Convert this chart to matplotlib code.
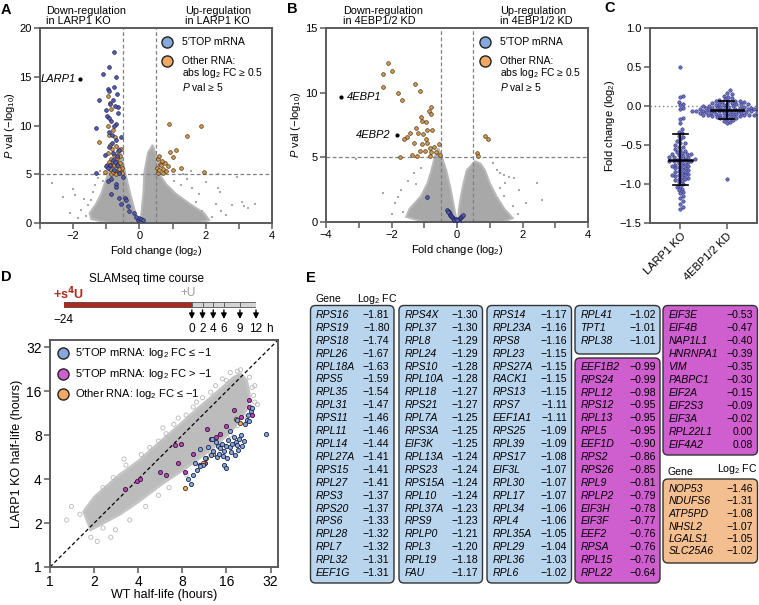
import numpy as np
import matplotlib
matplotlib.use("Agg")
import matplotlib.pyplot as plt
from matplotlib.patches import FancyBboxPatch, Polygon

plt.rcParams["font.family"] = ["Liberation Sans", "DejaVu Sans"]
plt.rcParams["mathtext.fontset"] = "custom"
plt.rcParams["mathtext.rm"] = "Liberation Sans"
plt.rcParams["mathtext.it"] = "Liberation Sans:italic"
plt.rcParams["font.size"] = 8

# ---------------- data ----------------
# Panel A: LARP1 KO volcano (fold change log2, -log10 P)
a_core_left = [(-0.03, 0.0), (-0.9, 0.0), (-1.45, 0.4), (-1.5, 1.0), (-1.3, 2.0), (-1.15, 3.0),
               (-1.05, 4.0), (-0.95, 5.0), (-0.85, 6.0), (-0.72, 7.0), (-0.62, 7.8), (-0.55, 7.0),
               (-0.42, 5.0), (-0.28, 3.0), (-0.12, 1.0), (-0.04, 0.3)]
a_core_right = [(0.03, 0.0), (0.06, 1.0), (0.12, 3.0), (0.15, 5.2), (0.26, 7.2), (0.40, 8.0),
                (0.50, 7.0), (0.60, 5.0), (0.80, 4.0), (1.10, 3.0), (1.50, 2.0), (1.95, 1.0),
                (2.1, 0.3), (1.8, 0.0)]
a_sparse = [(-2.65, 4.1), (-2.3, 2.7), (-2.0, 3.5), (-1.95, 2.9), (-1.67, 2.5), (-1.55, 1.8),
            (-1.4, 3.2), (-1.3, 1.2), (-1.25, 4.6), (-1.1, 4.3), (-1.6, 0.7), (1.6, 3.6),
            (1.8, 3.0), (2.37, 3.6), (2.43, 3.2), (2.3, 1.9), (2.8, 1.85), (3.1, 2.2),
            (3.15, 1.7), (3.28, 1.5), (3.48, 1.95), (2.37, 5.0), (2.93, 4.75), (2.0, 4.2),
            (1.7, 2.2), (1.45, 4.5), (1.9, 1.2), (2.6, 0.8), (1.3, 5.0), (1.55, 5.3),
            (-1.75, 1.3), (-1.85, 0.5), (-2.1, 1.0), (-1.45, 2.4), (2.2, 0.6), (2.45, 1.2),
            (1.25, 3.9), (1.05, 4.3), (-1.2, 5.3), (-1.35, 3.9)]
a_top = [(-0.78, 17.5), (-1.11, 15.3), (-0.91, 16.0), (-0.71, 15.0), (-0.96, 13.7), (-0.93, 13.5),
         (-1.21, 12.6), (-0.81, 12.6), (-0.66, 11.9), (-1.01, 11.6), (-0.88, 12.2), (-0.75, 12.0),
         (-0.98, 11.0), (-0.85, 10.5), (-0.70, 10.2), (-1.31, 9.7), (-0.76, 9.9), (-0.92, 9.3),
         (-0.71, 8.5), (-0.84, 8.2), (-0.91, 7.8), (-0.61, 7.5), (-0.80, 7.2), (-0.69, 6.9),
         (-0.81, 6.5), (-1.01, 5.8), (-0.88, 6.0), (-0.76, 5.4), (-0.61, 5.1), (-1.31, 5.1),
         (-0.95, 5.6), (-0.68, 5.9), (-0.86, 4.5), (-0.72, 4.0), (-0.51, 4.75), (-0.71, 3.7),
         (-0.86, 3.0), (-0.62, 2.6), (-0.95, 4.3), (-0.55, 2.0), (-0.45, 2.6), (-0.40, 2.4),
         (-0.35, 1.7), (-0.30, 1.2), (-0.15, 1.0), (-0.05, 0.3), (0.00, 0.5), (0.05, 0.4),
         (0.10, 0.3), (-0.10, 0.6), (-1.05, 7.0), (-0.78, 14.0), (-0.67, 13.2), (-0.57, 8.8),
         (-0.82, 9.0), (-0.93, 10.8), (-0.73, 6.3), (-0.65, 11.3)]
a_other = [(-1.21, 8.3), (-0.96, 13.0), (-0.90, 12.3), (-0.85, 11.7), (-0.95, 10.0), (-0.80, 9.5),
           (-0.92, 9.0), (-0.75, 8.8), (-0.88, 8.0), (-0.70, 7.9), (-0.82, 7.6), (-0.65, 7.4),
           (-0.95, 7.2), (-0.78, 7.0), (-0.60, 6.9), (-0.87, 6.6), (-0.72, 6.4), (-0.58, 6.2),
           (-0.98, 6.0), (-0.83, 5.9), (-0.66, 5.8), (-0.54, 5.6), (-0.90, 5.5), (-0.75, 5.3),
           (-0.62, 5.2), (-1.05, 5.2), (-0.52, 5.1), (-0.70, 5.0), (-0.85, 5.05), (-0.57, 7.6),
           (-0.68, 6.7), (-0.77, 6.0), (-0.93, 6.3), (-0.63, 5.5), (-0.80, 5.2),
           (0.55, 5.1), (0.61, 6.1), (0.52, 5.6), (0.58, 5.4), (0.65, 5.9), (0.70, 5.1),
           (0.72, 5.5), (0.55, 6.6), (0.60, 6.9), (0.78, 6.2), (0.80, 5.3), (0.91, 7.3),
           (1.01, 6.8), (1.11, 7.5), (0.89, 10.2), (1.85, 10.0), (1.44, 8.9), (1.00, 5.4),
           (1.26, 5.6), (1.95, 5.2), (0.68, 6.4), (0.85, 5.8)]
larp1_point = (-1.8, 14.8)

# Panel B: 4EBP1/2 KD volcano
b_core_left = [(-0.03, 0.0), (-1.0, 0.0), (-1.55, 0.4), (-1.45, 1.0), (-1.1, 2.0), (-0.9, 3.0),
               (-0.78, 4.0), (-0.68, 5.0), (-0.57, 5.7), (-0.46, 5.0), (-0.33, 4.0), (-0.20, 2.6),
               (-0.08, 1.0), (-0.03, 0.3)]
b_core_right = [(0.03, 0.0), (0.06, 1.0), (0.12, 2.0), (0.20, 3.0), (0.30, 4.0), (0.55, 4.7),
                (0.72, 4.5), (0.85, 4.0), (1.0, 3.0), (1.2, 2.0), (1.45, 1.0), (1.7, 0.3),
                (1.4, 0.0)]
b_sparse = [(-3.08, 4.85), (-2.27, 2.27), (-1.9, 1.5), (-1.7, 2.5), (-1.5, 3.2), (-1.3, 3.8),
            (-1.65, 0.8), (1.21, 4.0), (1.31, 3.76), (1.45, 3.6), (1.6, 3.5), (1.74, 3.38),
            (1.46, 3.0), (1.31, 2.6), (1.43, 2.0), (2.43, 2.99), (2.59, 1.7), (1.7, 1.2),
            (1.9, 2.5), (1.1, 4.6), (-2.0, 0.6), (-1.25, 2.9), (-1.1, 4.2), (1.85, 0.6),
            (2.1, 1.5), (-1.8, 1.9)]
b_top = [(-0.28, 0.85), (-0.25, 0.75), (-0.22, 0.65), (-0.20, 0.55), (-0.17, 0.45), (-0.14, 0.38),
         (-0.11, 0.30), (-0.08, 0.22), (-0.05, 0.15), (-0.03, 0.08), (0.00, 0.03), (0.02, 0.06),
         (0.04, 0.12), (0.07, 0.20), (0.10, 0.28), (0.13, 0.35), (0.16, 0.45), (0.19, 0.55),
         (-0.06, 0.05), (-0.10, 0.12), (0.05, 0.02), (-0.02, 0.20), (0.01, 0.15), (-0.93, 1.96),
         (-0.30, 0.90), (-0.26, 0.80)]
b_other = [(-2.10, 12.27), (-2.25, 11.45), (-1.99, 11.7), (-2.27, 10.4), (-1.28, 10.65),
           (-1.13, 10.1), (-1.81, 9.95), (-1.69, 9.43), (-0.79, 8.87), (-0.85, 8.6), (-0.79, 8.35),
           (-1.11, 8.1), (-1.08, 7.8), (-0.96, 7.7), (-1.25, 7.3), (-0.91, 7.1), (-0.77, 7.1),
           (-1.43, 6.9), (-1.19, 6.9), (-1.04, 6.8), (-1.53, 6.6), (-1.63, 6.4), (-0.95, 6.4),
           (-1.31, 6.1), (-1.08, 6.0), (-0.91, 6.1), (-0.69, 5.8), (-0.55, 6.0), (-0.82, 5.7),
           (-1.14, 5.5), (-0.99, 5.5), (-0.79, 5.4), (-0.63, 5.4), (-1.73, 5.0), (-1.37, 5.2),
           (-1.22, 5.1), (-0.82, 5.1), (-0.51, 5.2), (0.86, 6.65), (0.95, 6.45), (0.60, 5.35),
           (0.65, 5.1)]
ebp1_point = (-3.55, 9.7)
ebp2_point = (-1.84, 6.73)

# Panel C: fold change (log2) of 5'TOP mRNAs
c_groups = ["LARP1 KO", "4EBP1/2 KD"]
larp1_fc = [0.50, 0.13, 0.11, 0.05, 0.03, 0.01, -0.02, -0.04, -0.15, -0.17, -0.22, -0.30, -0.33,
            -0.35, -0.38, -0.40, -0.42, -0.45, -0.47, -0.50, -0.52, -0.53, -0.55, -0.56, -0.58,
            -0.59, -0.60, -0.61, -0.62, -0.63, -0.64, -0.65, -0.66, -0.66, -0.67, -0.68, -0.68,
            -0.69, -0.70, -0.70, -0.71, -0.72, -0.73, -0.74, -0.75, -0.76, -0.77, -0.78, -0.79,
            -0.80, -0.81, -0.82, -0.83, -0.84, -0.85, -0.86, -0.87, -0.88, -0.89, -0.90, -0.91,
            -0.92, -0.94, -0.95, -0.96, -0.98, -1.00, -1.02, -1.04, -1.06, -1.08, -1.10, -1.12,
            -1.15, -1.18, -1.22, -1.25, -1.30, -1.32, -0.48, -0.62, -0.71, -0.77, -0.88, -0.93]
ebp_fc = [0.20, 0.17, 0.15, 0.13, 0.12, 0.10, 0.09, 0.08, 0.07, 0.07, 0.06, 0.05, 0.05, 0.04,
          0.04, 0.03, 0.03, 0.02, 0.02, 0.01, 0.01, 0.00, 0.00, 0.00, -0.01, -0.01, -0.02,
          -0.02, -0.02, -0.03, -0.03, -0.03, -0.04, -0.04, -0.04, -0.05, -0.05, -0.05, -0.05,
          -0.06, -0.06, -0.06, -0.06, -0.07, -0.07, -0.07, -0.07, -0.08, -0.08, -0.08, -0.08,
          -0.09, -0.09, -0.09, -0.10, -0.10, -0.10, -0.11, -0.11, -0.11, -0.12, -0.12, -0.12,
          -0.13, -0.13, -0.14, -0.14, -0.15, -0.15, -0.16, -0.17, -0.18, -0.19, -0.20, -0.22,
          -0.93, 0.06, 0.02, -0.01, -0.04, -0.07, -0.09, -0.11, -0.13]
c_center = [-0.69, -0.05]
c_low = [-1.01, -0.17]
c_high = [-0.36, 0.07]

# Panel D: half-lives (hours)
d_core = [(1.9, 1.8), (3, 2.3), (4, 2.8), (6, 3.8), (8, 4.6), (10, 5.4), (12, 6.2), (14, 7.0),
          (16, 8.0), (18, 9.0), (20, 10.5), (22, 12), (23, 15), (22, 19), (20, 21), (18, 20),
          (16, 18), (14, 16), (12, 14), (10, 12), (8, 9.8), (6, 7.6), (4, 5.3), (3, 4.3),
          (2, 3.0), (1.7, 2.4)]
d_sparse = [(1.4, 2.6), (1.6, 2.3), (1.9, 1.6), (2.1, 1.5), (2.3, 1.85), (2.3, 3.5), (2.7, 4.1),
            (3.3, 5.0), (4.2, 5.9), (4.8, 6.6), (5.5, 7.3), (6.2, 8.2), (7.0, 9.5), (8.5, 11.0),
            (9.5, 12.5), (11, 14.5), (12.5, 15.8), (13.5, 17.5), (15, 19.5), (17, 21.5),
            (19, 22), (20, 22.5), (23, 20), (24, 17), (24.5, 15), (25, 13.5), (23.5, 12.5),
            (21, 10.8), (19, 9.3), (17, 8.0), (14.5, 6.8), (12.5, 5.9), (10.5, 5.0), (8.5, 4.3),
            (6.5, 3.5), (5.5, 3.1), (4.5, 2.6), (3.5, 2.1), (2.8, 1.8), (5.9, 9.0), (3.2, 5.5),
            (26, 13), (25, 17.5), (1.3, 2.1), (2.6, 1.6), (7.5, 10.5), (10, 13.5), (16, 19)]
d_top_down = [(13.5, 7.2), (14, 6.8), (14.5, 6.5), (15, 7.0), (15.5, 6.2), (16, 6.8), (16.5, 7.4),
              (17, 6.6), (17.5, 7.0), (18, 7.8), (18.5, 7.2), (19, 6.9), (19.5, 7.5), (20, 8.0),
              (13, 6.2), (12.5, 5.9), (13.8, 5.7), (14.2, 6.0), (15.2, 5.8), (16.2, 5.6),
              (17.2, 6.1), (18.2, 5.9), (19.2, 6.3), (20.5, 6.8), (21, 7.3), (12, 6.6),
              (11.5, 5.6), (11, 5.0), (10.5, 4.9), (10, 4.6), (9.5, 4.3), (9.2, 3.7), (8.8, 4.0),
              (9.8, 5.2), (15.5, 5.0), (15.8, 4.8), (21.5, 9.5), (22, 10.2), (23, 10.0),
              (23.5, 11.8), (24, 12.3), (22.5, 11.0), (30, 8.2), (19, 10.2), (17, 8.6),
              (12.8, 7.6), (10.5, 6.4)]
d_top_mild = [(3.26, 3.4), (3.9, 3.9), (5.65, 4.5), (7.1, 6.9), (8.4, 4.5), (10.6, 5.0),
              (11.8, 8.9), (14.4, 8.2), (17.9, 11.9), (23, 13.9), (22.8, 12.5), (20.2, 10.7),
              (4.1, 4.0), (6.2, 4.3), (7.5, 5.2), (9.5, 6.0), (12.5, 7.6), (16, 9.3),
              (24, 11), (13.5, 7.8), (11.5, 5.2), (7.8, 7.0)]
d_other = [(8.4, 3.5), (11.1, 5.2), (11.6, 5.6), (19.8, 9.7), (18.5, 10.3), (13, 6.0)]
d_ticks = [1, 2, 4, 8, 16, 32]

# Timeline above D (hours)
chase_times = [0, 2, 4, 6, 9, 12]
label_time = -24

# Panel E: gene tables
top_down_genes = ["RPS16", "RPS19", "RPS18", "RPL26", "RPL18A", "RPS5", "RPL35", "RPL31", "RPS11",
                  "RPL11", "RPL14", "RPL27A", "RPS15", "RPL27", "RPS3", "RPS20", "RPS6", "RPL28",
                  "RPL7", "RPL32", "EEF1G",
                  "RPS4X", "RPL37", "RPL8", "RPL24", "RPS10", "RPL10A", "RPL18", "RPS21", "RPL7A",
                  "RPS3A", "EIF3K", "RPL13A", "RPS23", "RPS15A", "RPL10", "RPL37A", "RPS9",
                  "RPLP0", "RPL3", "RPL19", "FAU",
                  "RPS14", "RPL23A", "RPS8", "RPL23", "RPS27A", "RACK1", "RPS13", "RPS7",
                  "EEF1A1", "RPS25", "RPL39", "RPS17", "EIF3L", "RPL30", "RPL17", "RPL34", "RPL4",
                  "RPL35A", "RPL29", "RPL36", "RPL6",
                  "RPL41", "TPT1", "RPL38"]
top_down_fc = [-1.81, -1.80, -1.74, -1.67, -1.63, -1.59, -1.54, -1.47, -1.46, -1.46, -1.44, -1.41,
               -1.41, -1.41, -1.37, -1.37, -1.33, -1.32, -1.32, -1.31, -1.31,
               -1.30, -1.30, -1.29, -1.29, -1.28, -1.28, -1.27, -1.27, -1.25, -1.25, -1.25, -1.24,
               -1.24, -1.24, -1.24, -1.23, -1.23, -1.21, -1.20, -1.18, -1.17,
               -1.17, -1.16, -1.16, -1.15, -1.15, -1.15, -1.15, -1.11, -1.11, -1.09, -1.09, -1.08,
               -1.07, -1.07, -1.07, -1.06, -1.06, -1.05, -1.04, -1.03, -1.02,
               -1.02, -1.01, -1.01]
top_mild_genes = ["EEF1B2", "RPS24", "RPL12", "RPS12", "RPL13", "RPL5", "EEF1D", "RPS2", "RPS26",
                  "RPL9", "RPLP2", "EIF3H", "EIF3F", "EEF2", "RPSA", "RPL15", "RPL22",
                  "EIF3E", "EIF4B", "NAP1L1", "HNRNPA1", "VIM", "PABPC1", "EIF2A", "EIF2S3",
                  "EIF3A", "RPL22L1", "EIF4A2"]
top_mild_fc = [-0.99, -0.99, -0.98, -0.95, -0.95, -0.95, -0.90, -0.86, -0.85, -0.81, -0.79, -0.78,
               -0.77, -0.76, -0.76, -0.76, -0.64,
               -0.53, -0.47, -0.40, -0.39, -0.35, -0.30, -0.15, -0.09, -0.02, 0.00, 0.08]
other_genes = ["NOP53", "NDUFS6", "ATP5PD", "NHSL2", "LGALS1", "SLC25A6"]
other_fc = [-1.46, -1.31, -1.08, -1.07, -1.05, -1.02]

# ---------------- styling ----------------
W, H = 759, 605
fig = plt.figure(figsize=(W / 100, H / 100), dpi=100)

BLUE_FILL = "#86a9dc"
MAG_FILL = "#cf5fcf"
ORA_FILL = "#f1a866"
GRAY = "#a8a8a8"
SPINE = "#5a5a5a"


def add_ax(left, top, right, bottom):
    return fig.add_axes([left / W, 1 - bottom / H, (right - left) / W, (bottom - top) / H])


def style(ax, size=8):
    for s in ax.spines.values():
        s.set_color(SPINE)
        s.set_linewidth(1.4)
    ax.tick_params(color=SPINE, width=1.1, length=4, labelsize=size, pad=2)
    ax.tick_params(which="minor", color=SPINE, width=1.1, length=4)


def volcano(ax, core_l, core_r, sparse, top, other, xlim, ylim, yticks):
    for poly in (core_l, core_r):
        ax.add_patch(Polygon(poly, closed=True, fc=GRAY, ec="#b8b8b8", lw=1.5, zorder=1))
    sx, sy = np.array(sparse).T
    ax.scatter(sx, sy, s=3, c=GRAY, marker="s", lw=0, zorder=1)
    ax.axvline(-0.5, ls=(0, (3, 2)), color="#808080", lw=0.9, zorder=2)
    ax.axvline(0.5, ls=(0, (3, 2)), color="#808080", lw=0.9, zorder=2)
    ax.axhline(5, ls=(0, (3, 2)), color="#808080", lw=0.9, zorder=2)
    ox, oy = np.array(other).T
    ax.scatter(ox, oy, s=7, fc="#d99a50", ec="#4a3515", lw=0.5, zorder=3)
    tx, ty = np.array(top).T
    ax.scatter(tx, ty, s=7, fc="#5560b0", ec="#1c1c55", lw=0.5, zorder=4)
    ax.set_xlim(*xlim)
    ax.set_ylim(*ylim)
    ax.set_yticks(yticks)
    ax.set_xticks([t for t in range(xlim[0], xlim[1] + 1) if t % 2 == 0])
    ax.set_xticks([t for t in range(xlim[0], xlim[1] + 1) if t % 2 != 0], minor=True)
    ax.set_xlabel("Fold change (log$_2$)", fontsize=8, labelpad=2)
    ax.set_ylabel("$\\it{P}$ val (\u2212log$_{10}$)", fontsize=8, labelpad=2)
    style(ax)


# Panel A
axA = add_ax(40, 28, 272, 223)
volcano(axA, a_core_left, a_core_right, a_sparse, a_top, a_other, (-3, 4), (0, 20),
        [0, 5, 10, 15, 20])
axA.scatter(*larp1_point, s=4, c="k", zorder=5)
axA.text(larp1_point[0] - 0.12, larp1_point[1], "LARP1", style="italic", ha="right",
         va="center", fontsize=8)

# Panel B
axB = add_ax(326, 28, 588, 222)
volcano(axB, b_core_left, b_core_right, b_sparse, b_top, b_other, (-4, 4), (0, 15),
        [0, 5, 10, 15])
axB.scatter(*ebp1_point, s=4, c="k", zorder=5)
axB.scatter(*ebp2_point, s=4, c="k", zorder=5)
axB.text(ebp1_point[0] + 0.2, ebp1_point[1], "4EBP1", style="italic", ha="left",
         va="center", fontsize=8)
axB.text(ebp2_point[0] - 0.2, ebp2_point[1], "4EBP2", style="italic", ha="right",
         va="center", fontsize=8)

# Panel C: swarm plot
axC = add_ax(650, 28, 757, 223)
axC.set_xlim(-0.65, 1.65)
axC.set_ylim(-1.5, 1.0)
px_x = 107 / 2.3
px_y = 195 / 2.5


def swarm(vals, d=3.3, step=1.6):
    vals = np.asarray(vals)
    placed = []
    offs = np.zeros(len(vals))
    for i in np.argsort(vals):
        y = vals[i] * px_y
        k = 0
        while True:
            cand = ((k + 1) // 2) * step * (1 if k % 2 else -1)
            if all((cand - px) ** 2 + (y - py) ** 2 >= d * d for px, py in placed):
                break
            k += 1
        placed.append((cand, y))
        offs[i] = cand / px_x
    return offs


for i, vals in enumerate([larp1_fc, ebp_fc]):
    xo = swarm(vals)
    axC.scatter(i + xo, vals, s=6, fc="#6d73c4", ec="#2b2b78", lw=0.4, zorder=3)
    half = 0.25 if i == 0 else 0.34
    axC.plot([i - half, i + half], [c_center[i]] * 2, color="k", lw=1.8, zorder=4)
    axC.plot([i, i], [c_low[i], c_high[i]], color="k", lw=1.2, zorder=4)
    for yv in (c_low[i], c_high[i]):
        axC.plot([i - 0.16, i + 0.16], [yv, yv], color="k", lw=1.2, zorder=4)
axC.axhline(0, ls=(0, (1, 2)), color="#808080", lw=1.0, zorder=1)
axC.set_yticks([-1.5, -1.0, -0.5, 0.0, 0.5, 1.0])
axC.set_yticklabels([f"{v:.1f}".replace("-", "\u2212") for v in [-1.5, -1.0, -0.5, 0.0, 0.5, 1.0]])
axC.set_xticks([0, 1])
axC.set_xticklabels(c_groups, rotation=45, ha="right", rotation_mode="anchor")
axC.set_ylabel("Fold change (log$_2$)", fontsize=8, labelpad=2)
style(axC)

# Panel D
axD = add_ax(50, 340, 278, 567)
axD.set_xscale("log", base=2)
axD.set_yscale("log", base=2)
axD.set_xlim(1, 36)
axD.set_ylim(1, 36)
axD.add_patch(Polygon(d_core, closed=True, fc="#bcbcbc", ec="#c4c4c4", lw=2.0, zorder=1))
sx, sy = np.array(d_sparse).T
axD.scatter(sx, sy, s=9, fc="none", ec="#b8b8b8", lw=0.6, zorder=1)
axD.plot([1, 36], [1, 36], color="k", ls=(0, (3, 2)), lw=0.9, zorder=2)
for pts, fc, ec in [(d_top_mild, "#b548b5", "#3a103a"), (d_other, ORA_FILL, "#4a3515"),
                    (d_top_down, BLUE_FILL, "#1c2444")]:
    px_, py_ = np.array(pts).T
    axD.scatter(px_, py_, s=9, fc=fc, ec=ec, lw=0.6, zorder=3)
axD.set_xticks(d_ticks)
axD.set_yticks(d_ticks)
axD.set_xticklabels([str(t) for t in d_ticks])
axD.set_yticklabels([str(t) for t in d_ticks])
axD.minorticks_off()
axD.set_xlabel("WT half-life (hours)", fontsize=9, labelpad=0)
axD.set_ylabel("LARP1 KO half-life (hours)", fontsize=9, labelpad=2)
style(axD, size=10)

# Timeline above D (x in hours, y in pixels)
axT = add_ax(63.5, 270, 256, 338)
axT.set_xlim(label_time, chase_times[-1])
axT.set_ylim(338, 270)
axT.axis("off")
axT.barh(304, 0 - label_time, left=label_time, height=5, color="#b3261e", ec="#444444",
         lw=0.6)
axT.barh([304] * (len(chase_times) - 1), np.diff(chase_times), left=chase_times[:-1], height=5,
         color="#d4d4d4", ec="#555555", lw=0.6)
for t in chase_times:
    axT.annotate("", xy=(t, 319), xytext=(t, 310),
                 arrowprops=dict(arrowstyle="-|>", color="k", lw=1.0, mutation_scale=8,
                                 shrinkA=0, shrinkB=0))
    axT.text(t, 329, str(t), ha="center", va="center", fontsize=8.5)
axT.text(chase_times[-1] + 2.6, 329, "h", ha="center", va="center", fontsize=8.5)
axT.text(label_time, 320, "\u221224", ha="center", va="center", fontsize=8.5)
axT.text(label_time + 1, 293.5, "+s$^{\\mathbf{4}}$U", ha="center", va="center", fontsize=9,
         color="#b3261e", fontweight="bold")
axT.text(-0.7, 293.5, "+U", ha="center", va="center", fontsize=8.5, color="#9a9a9a")
axT.text(-8.4, 279, "SLAMseq time course", ha="center", va="center", fontsize=8.5,
         clip_on=False)

# Overlay in pixel coordinates for letters, legends and the table
ov = fig.add_axes([0, 0, 1, 1])
ov.set_xlim(0, W)
ov.set_ylim(H, 0)
ov.axis("off")

for letter, (x, y) in zip("ABCDE", [(1, 10), (287, 9), (604, 8), (1, 277), (306, 278)]):
    ov.text(x, y, letter, fontsize=10.5, fontweight="bold", ha="left", va="center")

for x, txt in [(46, "Down-regulation\nin LARP1 KO"), (185, "Up-regulation\nin LARP1 KO"),
               (343, "Down-regulation\nin 4EBP1/2 KD"), (500, "Up-regulation\nin 4EBP1/2 KD")]:
    ov.text(x, 15.5, txt, fontsize=7.8, ha="left", va="center", linespacing=1.0)

for cx in (167, 485):
    ov.plot(cx, 42, "o", ms=8, mfc=BLUE_FILL, mec="#222222", mew=1.0)
    ov.plot(cx, 61, "o", ms=8, mfc=ORA_FILL, mec="#222222", mew=1.0)
    ov.text(cx + 14.5, 42, "5\u2032TOP mRNA", fontsize=7.6, va="center")
    ov.text(cx + 14.5, 56, "Other RNA:\nabs log$_2$ FC \u2265 0.5\n$\\it{P}$ val \u2265 5",
            fontsize=7.4, va="top", linespacing=1.05)

for y, fc, txt in [(353, BLUE_FILL, "5\u2032TOP mRNA: log$_2$ FC \u2264 \u22121"),
                   (374, MAG_FILL, "5\u2032TOP mRNA: log$_2$ FC > \u22121"),
                   (394, ORA_FILL, "Other RNA: log$_2$ FC \u2264 \u22121")]:
    ov.plot(63, y, "o", ms=8, mfc=fc, mec="#222222", mew=1.0)
    ov.text(75, y, txt, fontsize=8, va="center")


def fmt(v):
    return f"{v:.2f}".replace("-", "\u2212")


def gene_box(left, right, top, bottom, genes, vals, fill, row0, step):
    ov.add_patch(FancyBboxPatch((left, top), right - left, bottom - top,
                                boxstyle="round,pad=0,rounding_size=5", fc=fill,
                                ec="#333333", lw=1.0))
    for k, (g, v) in enumerate(zip(genes, vals)):
        y = row0 + k * step
        ov.text(left + 5.5, y, g, style="italic", fontsize=7.6, va="center", ha="left")
        ov.text(right - 4.5, y, fmt(v), fontsize=7.6, va="center", ha="right")


ov.text(316, 299, "Gene", fontsize=7.6, va="center")
ov.text(357, 299, "Log$_2$ FC", fontsize=7.6, va="center")
box_rows = [21, 21, 21, 3]
starts = np.cumsum([0] + box_rows)
blue_boxes = [(310.5, 394, 305.5, 583), (399, 482.5, 305.5, 583), (487, 571.5, 305.5, 583),
              (575, 660, 305.5, 354)]
for (l, r, t, b), s0, s1 in zip(blue_boxes, starts[:-1], starts[1:]):
    gene_box(l, r, t, b, top_down_genes[s0:s1], top_down_fc[s0:s1], "#b9d5ee", 315, 12.9)

mild_rows = [17, 11]
gene_box(575, 660, 358, 583, top_mild_genes[:mild_rows[0]], top_mild_fc[:mild_rows[0]],
         MAG_FILL, 366.7, 12.9)
gene_box(663, 757.5, 305.5, 455, top_mild_genes[mild_rows[0]:], top_mild_fc[mild_rows[0]:],
         MAG_FILL, 315, 13.0)

ov.text(667, 472, "Gene", fontsize=7.6, va="center")
ov.text(757, 469, "Log$_2$ FC", fontsize=7.6, va="center", ha="right")
gene_box(663, 757.5, 479, 563, other_genes, other_fc, "#f4bf90", 489, 12.5)

fig.savefig("out.png", dpi=100)
